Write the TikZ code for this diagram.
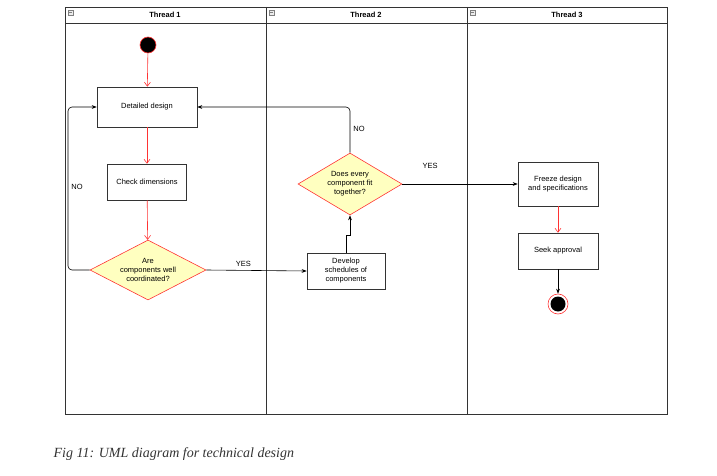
\documentclass[tikz,border=0pt]{standalone}
\usepackage{fontspec}
\setmainfont{Liberation Sans}
\usetikzlibrary{arrows.meta, positioning, shapes.geometric}
\definecolor{umlred}{HTML}{FF3333}
\definecolor{umlyellow}{HTML}{FFFFC0}
\definecolor{umlgray}{HTML}{333333}

\begin{document}
\begin{tikzpicture}[x=1pt, y=-1pt, line width=0.6pt,
  every node/.style={font=\fontsize{7.5}{9}\selectfont},
  act/.style={rectangle, draw=umlgray, fill=white, align=center, inner sep=2pt},
  decide/.style={diamond, draw=umlred, fill=umlyellow, align=center, aspect=1.9, inner sep=0pt},
  flow/.style={-{Stealth[length=5pt]}, black},
  redflow/.style={-{Straight Barb[length=4pt, width=6pt]}, umlred},
  lanehead/.style={font=\fontsize{7.5}{9}\selectfont\bfseries},
]
\useasboundingbox (0,0) rectangle (717,476);

% Swimlanes
\draw[umlgray, semithick] (65,7) rectangle (667,414);
\draw[umlgray] (65,23) -- (667,23);
\draw[umlgray, semithick] (266,7) -- (266,414);
\draw[umlgray, semithick] (467,7) -- (467,414);
\foreach \x/\t in {165/Thread 1, 366/Thread 2, 567/Thread 3} {
  \node[lanehead] at (\x,15) {\t};
}
\foreach \x in {68, 269, 470} {
  \draw[gray, thin, fill=gray!15] (\x,10) rectangle +(5,5);
  \draw[gray, thin] (\x+1,12.5) -- +(3,0);
}

% Nodes
\node[circle, fill=black, draw=umlred, minimum size=16pt, inner sep=0pt] (start) at (148,45) {};
\node[act, minimum width=100pt, minimum height=40pt] (design) at (147,107) {Detailed design};
\node[act, minimum width=79pt, minimum height=36pt] (check) at (147,182) {Check dimensions};
\node[decide, minimum width=116pt, minimum height=60pt] (coord) at (148,270) {Are\\components well\\coordinated?};
\node[act, minimum width=78pt, minimum height=36pt] (sched) at (346,271) {Develop\\schedules of\\components};
\node[decide, minimum width=104pt, minimum height=62pt] (fit) at (350,184) {Does every\\component fit\\together?};
\node[act, minimum width=80pt, minimum height=44pt] (freeze) at (558,184) {Freeze design\\and specifications};
\node[act, minimum width=80pt, minimum height=36pt] (seek) at (558,251) {Seek approval};
\node[circle, draw=umlred, fill=white, minimum size=20pt, inner sep=0pt] (stop) at (558,304) {};
\node[circle, fill=black, minimum size=15pt, inner sep=0pt] at (stop) {};

% Flows
\draw[redflow] (start) -- (design);
\draw[redflow] (design) -- (check);
\draw[redflow] (check) -- (coord);
\draw[flow, rounded corners=4pt] (coord.west) -- (68,270) -- (68,107) -- (design.west);
\node at (77,187) {NO};
\draw[flow] (coord.east) -- (sched.west) node[pos=0.37, above] {YES};
\draw[flow] (sched.north) -- (346,235) -- (350,235) -- (fit.south);
\draw[flow, rounded corners=4pt] (fit.north) -- (350,107) -- (design.east);
\node at (359,129) {NO};
\draw[flow] (fit.east) -- (freeze.west);
\node at (430,166) {YES};
\draw[redflow] (freeze) -- (seek);
\draw[flow] (seek) -- (stop);

% Caption
\node[anchor=west, font=\fontsize{14}{16}\selectfont\itshape, text=umlgray] at (50,454) {\fontspec{Liberation Serif}Fig 11: UML diagram for technical design};
\end{tikzpicture}
\end{document}
